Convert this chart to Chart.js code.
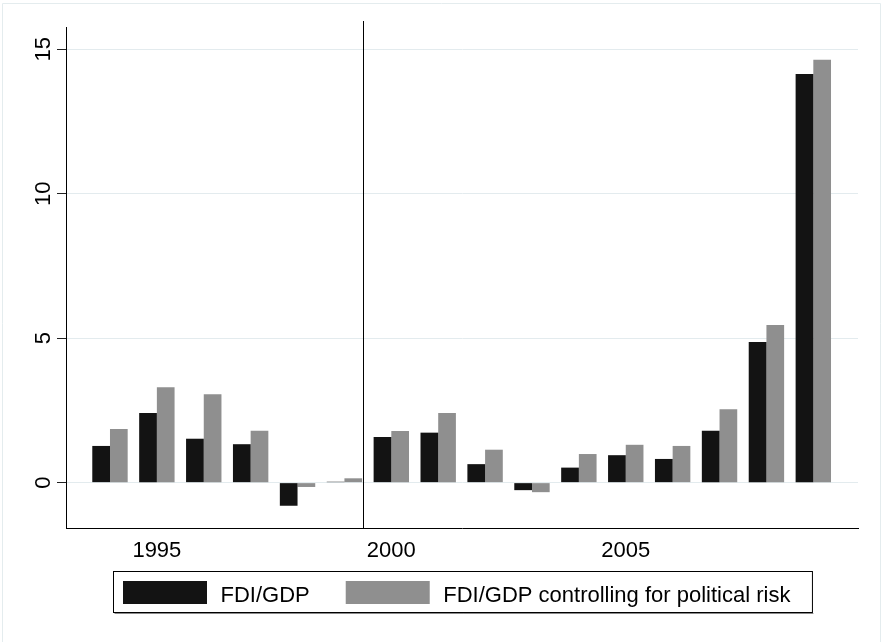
<!DOCTYPE html>
<html>
<head>
<meta charset="utf-8">
<script src="https://cdn.jsdelivr.net/npm/chart.js@4/dist/chart.umd.min.js"></script>
<style>
html,body{margin:0;padding:0;background:#fff;}
#wrap{width:881px;height:642px;position:relative;}
canvas{display:block;}
</style>
</head>
<body>
<div id="wrap"><canvas id="c" width="881" height="642"></canvas></div>
<script>
// ---- data ----
const years = [1994, 1995, 1996, 1997, 1998, 1999, 2000, 2001, 2002, 2003, 2004, 2005, 2006, 2007, 2008, 2009];
const fdiGdp = [1.27, 2.41, 1.52, 1.33, -0.80, 0.03, 1.58, 1.73, 0.64, -0.26, 0.52, 0.95, 0.82, 1.80, 4.87, 14.14];
const fdiGdpPolRisk = [1.86, 3.30, 3.06, 1.80, -0.15, 0.15, 1.79, 2.41, 1.14, -0.33, 0.99, 1.31, 1.27, 2.54, 5.46, 14.64];
const seriesNames = ['FDI/GDP', 'FDI/GDP controlling for political risk'];
const xTickValues = [1995, 2000, 2005];
const yTickValues = [0, 5, 10, 15];
const xLineYear = 1999.4;
const xRange = [1993.062, 2009.953];
const yRange = [-1.57, 15.77];

const FONT = "'Liberation Sans', Arial, Helvetica, sans-serif";
Chart.defaults.font.family = FONT;
Chart.defaults.color = '#000';

const framePlugin = {
  id: 'frame',
  beforeDraw(chart) {
    const ctx = chart.ctx;
    ctx.save();
    ctx.fillStyle = '#fff';
    ctx.fillRect(0, 0, chart.width, chart.height);
    ctx.strokeStyle = '#e4ecee';
    ctx.lineWidth = 1;
    ctx.beginPath();
    ctx.moveTo(2.5, chart.height + 2);
    ctx.lineTo(2.5, 3.5);
    ctx.lineTo(880.5, 3.5);
    ctx.lineTo(880.5, chart.height + 2);
    ctx.stroke();
    ctx.restore();
  }
};

const yLabelPlugin = {
  id: 'yLabels',
  afterDraw(chart) {
    const ctx = chart.ctx, y = chart.scales.y;
    ctx.save();
    ctx.font = '22px ' + FONT;
    ctx.fillStyle = '#000';
    ctx.textAlign = 'center';
    ctx.textBaseline = 'alphabetic';
    yTickValues.forEach(v => {
      const py = y.getPixelForValue(v);
      ctx.save();
      ctx.translate(50, py);
      ctx.rotate(-Math.PI / 2);
      ctx.fillText(String(v), 0, 0);
      ctx.restore();
    });
    ctx.restore();
  }
};

const xLinePlugin = {
  id: 'xLine',
  afterDatasetsDraw(chart) {
    const ctx = chart.ctx, x = chart.scales.x, ca = chart.chartArea;
    const px = Math.round(x.getPixelForValue(xLineYear)) + 0.5;
    ctx.save();
    ctx.strokeStyle = '#000';
    ctx.lineWidth = 1;
    ctx.beginPath();
    ctx.moveTo(px, ca.top - 6);
    ctx.lineTo(px, ca.bottom);
    ctx.stroke();
    ctx.restore();
  }
};

const legendPlugin = {
  id: 'boxLegend',
  afterDraw(chart) {
    const ctx = chart.ctx, ca = chart.chartArea;
    ctx.save();
    ctx.font = '22px ' + FONT;
    const sw = 84, sh = 23, gapT = 13.5, gapItem = 36, padL = 9.5, padR = 22;
    const items = chart.data.datasets.map(d => ({ text: d.label, color: d.backgroundColor, w: ctx.measureText(d.label).width }));
    let total = padL + padR;
    items.forEach((it, i) => { total += sw + gapT + it.w + (i ? gapItem : 0); });
    const cx = (ca.left + ca.right) / 2;
    const left = Math.round(cx - total / 2) + 0.5;
    const top = Math.round(chart.scales.x.bottom + 3) + 0.5;
    const h = 41;
    // shadow
    ctx.strokeStyle = '#8a8a8a';
    ctx.lineWidth = 1;
    ctx.beginPath();
    ctx.moveTo(left + 1, top + h + 1);
    ctx.lineTo(left + total + 1, top + h + 1);
    ctx.stroke();
    ctx.fillStyle = '#fff';
    ctx.fillRect(left, top, total, h);
    ctx.strokeStyle = '#000';
    ctx.strokeRect(left, top, total, h);
    let x = left + padL;
    items.forEach((it, i) => {
      if (i) x += gapItem;
      ctx.fillStyle = it.color;
      ctx.fillRect(x, top + 9.5, sw, sh);
      x += sw + gapT;
      ctx.fillStyle = '#000';
      ctx.textAlign = 'left';
      ctx.textBaseline = 'alphabetic';
      ctx.fillText(it.text, x, top + 30.5);
      x += it.w;
    });
    ctx.restore();
  }
};

new Chart(document.getElementById('c'), {
  type: 'bar',
  data: {
    datasets: [
      { label: seriesNames[0], data: years.map((yr, i) => ({ x: yr, y: fdiGdp[i] })), backgroundColor: '#131313', borderWidth: 0 },
      { label: seriesNames[1], data: years.map((yr, i) => ({ x: yr, y: fdiGdpPolRisk[i] })), backgroundColor: '#8f8f8f', borderWidth: 0 }
    ]
  },
  options: {
    responsive: false,
    animation: false,
    devicePixelRatio: 1,
    layout: { padding: { top: 27, right: 23, bottom: 74, left: 0 } },
    datasets: { bar: { categoryPercentage: 0.755, barPercentage: 1 } },
    plugins: { legend: { display: false }, tooltip: { enabled: false } },
    scales: {
      x: {
        type: 'linear',
        min: xRange[0],
        max: xRange[1],
        offset: false,
        grid: { display: false, drawTicks: false },
        border: { display: true, color: '#000', width: 1 },
        ticks: { font: { size: 22 }, color: '#000', padding: 10, autoSkip: false, maxRotation: 0, minRotation: 0, callback: v => String(v) },
        afterBuildTicks: s => { s.ticks = xTickValues.map(v => ({ value: v })); },
        afterFit: s => { s.height = 40; }
      },
      y: {
        type: 'linear',
        min: yRange[0],
        max: yRange[1],
        grid: { color: '#e3ebee', lineWidth: 1, drawTicks: true, tickLength: 9, tickColor: '#222', tickWidth: 1 },
        border: { display: true, color: '#000', width: 1 },
        ticks: { display: false },
        afterBuildTicks: s => { s.ticks = yTickValues.map(v => ({ value: v })); },
        afterFit: s => { s.width = 66; }
      }
    }
  },
  plugins: [framePlugin, yLabelPlugin, xLinePlugin, legendPlugin]
});
</script>
</body>
</html>
